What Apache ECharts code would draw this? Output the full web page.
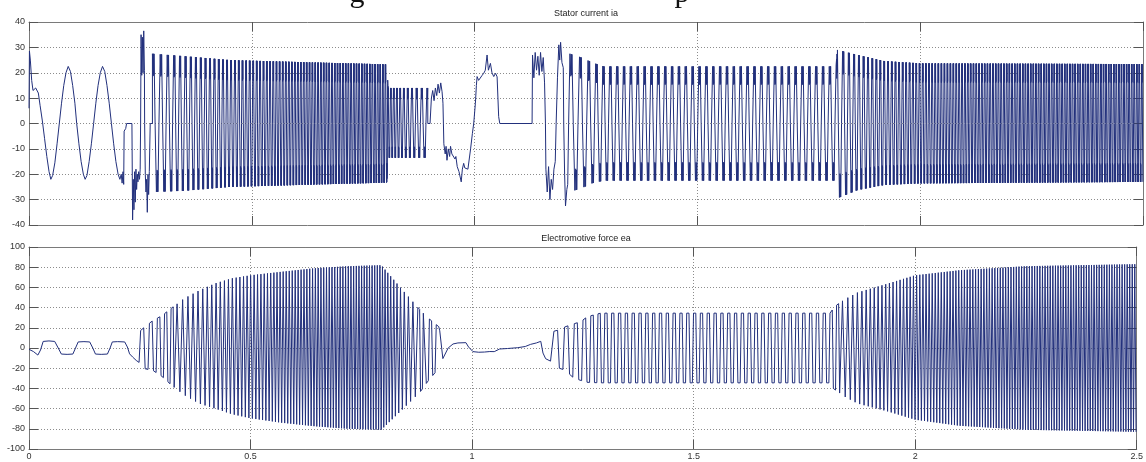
<!DOCTYPE html>
<html><head><meta charset="utf-8">
<script src="https://cdn.jsdelivr.net/npm/echarts@6/dist/echarts.min.js"></script>
<style>html,body{margin:0;padding:0;background:#fff}#c{width:1146px;height:462px}</style>
</head><body><div id="c"></div>
<script>
// ---------------- DATA ----------------
const xTickLabels = ['0', '0.5', '1', '1.5', '2', '2.5'];
const iaTickLabels = ['-40', '-30', '-20', '-10', '0', '10', '20', '30', '40'];
const emfTickLabels = ['-100', '-80', '-60', '-40', '-20', '0', '20', '40', '60', '80', '100'];

// electrical period (s) of the commutation, read from pulse spacing
const periodT = [0.245, 0.26, 0.28, 0.31, 0.34, 0.40, 0.48, 0.56, 0.65, 0.80, 0.83, 0.86, 0.90, 0.93, 1.175, 1.22, 1.255, 1.285, 1.81, 1.85, 1.9, 2.0, 2.1, 2.25, 2.5];
const periodV = [0.022, 0.02, 0.018, 0.015, 0.0125, 0.0102, 0.0082, 0.0070, 0.0063, 0.0058, 0.0075, 0.010, 0.014, 0.018, 0.026, 0.022, 0.018, 0.0154, 0.0154, 0.0112, 0.0090, 0.0072, 0.0064, 0.0059, 0.0057];

// stator current: explicit start-up trace [t, ia]
const iaStartPts = [[0,6],[0.001,28.5],[0.003,25],[0.006,17],[0.009,13],[0.012,12.5],[0.015,14],[0.018,14],[0.021,12],[0.025,7],[0.03,1],[0.035,-6],[0.04,-13],[0.045,-19],[0.049,-22],[0.053,-20.5],[0.058,-15.5],[0.063,-8],[0.068,0],[0.073,8],[0.078,15],[0.083,20],[0.088,22.5],[0.093,20.5],[0.098,15],[0.103,8],[0.107,0],[0.112,-8],[0.117,-15],[0.122,-20],[0.126,-22],[0.130,-20.5],[0.135,-15],[0.140,-8],[0.145,0],[0.150,8],[0.155,15],[0.160,20],[0.165,22.5],[0.170,20.5],[0.175,15],[0.180,8],[0.185,0],[0.190,-8],[0.195,-15],[0.200,-20],[0.204,-22],[0.207,-20],[0.209,-23.5],[0.211,-19],[0.2125,-24],[0.2135,-3],[0.217,-2],[0.219,0],[0.231,0],[0.2325,-38],[0.234,-22],[0.2355,-34],[0.237,-19],[0.2385,-31],[0.24,-18],[0.2415,-26],[0.243,-20],[0.2445,-23],[0.246,-19],[0.248,-22],[0.2495,-18],[0.2505,0],[0.2515,35],[0.253,19],[0.2545,34],[0.256,20],[0.2575,36.5],[0.259,21],[0.2595,0],[0.261,-20],[0.2625,-27],[0.264,-22],[0.2655,-35],[0.267,-20],[0.2685,-28],[0.27,-19],[0.272,0],[0.277,0]];
// stator current: explicit trace around the stop / restart
const iaMidPts = [[0.895,0],[0.9,0],[0.903,10],[0.906,13],[0.909,9],[0.912,14],[0.915,11],[0.918,15.5],[0.921,12],[0.924,16],[0.927,12.5],[0.929,8],[0.930,0],[0.931,-8],[0.934,-12],[0.936,-9],[0.938,-14.5],[0.941,-10],[0.944,-13],[0.946,-9],[0.949,-12],[0.953,-11.7],[0.956,-14],[0.958,-13],[0.961,-17],[0.965,-19],[0.970,-23],[0.9725,-18],[0.9755,-15.7],[0.978,-17.5],[0.982,-17],[0.985,-18],[0.987,-17.7],[0.991,-10],[0.995,-4],[0.998,0],[1.0018,8],[1.004,15],[1.0056,18.5],[1.009,17],[1.013,17.7],[1.017,19],[1.0205,19.8],[1.024,21],[1.028,27],[1.031,21],[1.0355,23.7],[1.039,20],[1.043,18.5],[1.047,19.8],[1.0505,18.4],[1.054,2.7],[1.0565,0],[1.129,0],[1.130,27],[1.133,18],[1.136,28],[1.139,21],[1.142,26.5],[1.145,19],[1.148,28],[1.151,20.5],[1.154,26],[1.157,16],[1.159,0],[1.160,-18],[1.163,-27],[1.166,-17],[1.169,-30],[1.172,-22],[1.175,-26],[1.178,-18],[1.181,-15],[1.183,0],[1.186,18],[1.189,31],[1.191,25],[1.193,32],[1.196,24],[1.199,22],[1.2,0],[1.202,-20],[1.204,-32.5],[1.207,-26],[1.209,-24],[1.211,0],[1.214,0]];
// stator current: pulse envelopes inside the commutated windows
const iaEnvT   = [0.277, 0.35, 0.45, 0.55, 0.65, 0.803, 0.806, 0.895, 1.214, 1.24, 1.265, 1.29, 1.811, 1.814, 1.86, 1.92, 2.0, 2.5];
const iaEnvPos = [27.5, 26.5, 25, 24.5, 24, 23.3, 14, 14, 27.5, 26, 24, 22.5, 22.5, 29, 27, 24.6, 23.7, 23.4];
const iaEnvNeg = [-27, -26.5, -25, -24.5, -24, -23.3, -13.5, -13.5, -27, -25.5, -23.5, -22.5, -22.5, -29.5, -26.2, -24.2, -23.6, -23];
const iaWindows = [[0.277, 0.805, 0], [0.805, 0.895, 0], [1.214, 2.5, 0]];

// EMF: explicit traces
const emfStartPts = [[0,-1.3],[0.01,-3.5],[0.02,-7],[0.026,-2],[0.032,6.5],[0.045,7],[0.058,6.5],[0.066,0],[0.073,-6],[0.086,-6.3],[0.099,-6],[0.105,0],[0.111,6],[0.124,6.3],[0.137,6],[0.144,0],[0.15,-6],[0.163,-6.3],[0.177,-6],[0.183,0],[0.188,6],[0.2,6.3],[0.216,6],[0.222,1],[0.227,-5.8],[0.234,-9],[0.242,-12.3],[0.2455,-13]];
const emfMidPts = [[0.927,17],[0.934,-10.5],[0.946,0],[0.957,4],[0.968,5],[0.986,5.3],[0.992,1],[1.002,-3.6],[1.015,-4.2],[1.028,-4],[1.04,-3.5],[1.05,-3.6],[1.062,-1],[1.08,-0.5],[1.103,0.3],[1.12,1.5],[1.132,3.6],[1.145,5],[1.155,6.6],[1.16,-5],[1.166,-10.6],[1.177,-13]];
// EMF envelopes
const emfEnvT   = [0.245, 0.253, 0.261, 0.279, 0.30, 0.326, 0.35, 0.384, 0.42, 0.458, 0.5, 0.57, 0.645, 0.72, 0.795, 0.84, 0.882, 0.90, 0.925, 1.177, 1.19, 1.21, 1.23, 1.245, 1.26, 1.29, 1.81, 1.815, 1.84, 1.87, 1.94, 2.0, 2.1, 2.25, 2.5];
const emfEnvPos = [13, 18, 20.7, 27, 32, 41, 49, 57, 64, 69, 72, 75.5, 79, 81, 82, 59, 38, 30, 21, 16, 17, 21, 24, 26, 31, 34.5, 34.5, 40, 48, 55, 64, 72, 77, 81, 83];
const emfEnvNeg = [-13, -16, -20.5, -22, -28, -38.5, -46.5, -55, -60, -65.5, -69.6, -74, -77.5, -80, -81, -62, -44, -33, -20, -13, -19, -22, -30, -32, -34, -34.5, -34.5, -40, -48, -55, -63, -71, -77, -81, -83];
const emfWindows = [[0.2455, 0.925, 0.7], [1.177, 2.5, 0.7]];

// ---------------- construction ----------------
// waveform corner shapes within one electrical cycle: [phase, [[side, fraction of envelope], ...]]
const IA_SHAPE = [[0,[[0,0],[1,1]]],[0.07,[[1,1]]],[0.09,[[1,0.68]]],[0.13,[[1,1]]],[0.17,[[1,0.7]]],[0.2,[[1,1]]],[1/3,[[1,1],[0,0]]],
  [0.5,[[0,0],[-1,1]]],[0.57,[[-1,1]]],[0.59,[[-1,0.68]]],[0.63,[[-1,1]]],[0.67,[[-1,0.7]]],[0.7,[[-1,1]]],[5/6,[[-1,1],[0,0]]]];
const EMF_SHAPE = [[0,[[1,1]]],[1/3,[[1,1]]],[0.5,[[-1,1]]],[5/6,[[-1,1]]]];

function lerp(ts, vs, t) {
  if (t <= ts[0]) return vs[0];
  for (let i = 1; i < ts.length; i++) {
    if (t <= ts[i]) { const f = (t - ts[i-1]) / (ts[i] - ts[i-1] || 1); return vs[i-1] + f * (vs[i] - vs[i-1]); }
  }
  return vs[vs.length - 1];
}
function generate(win, shape, envT, envP, envN) {
  const [a, b, ph0] = win, out = [], dt = 0.00002;
  let cyc = Math.floor(ph0), frac = ph0 - cyc;
  let ci = shape.findIndex(c => c[0] >= frac); if (ci < 0) { ci = 0; cyc++; }
  let phase = ph0, t = a;
  while (t < b) {
    const target = cyc + shape[ci][0];
    while (phase < target && t < b) { phase += dt / lerp(periodT, periodV, t); t += dt; }
    if (t >= b) break;
    const P = lerp(envT, envP, t), N = lerp(envT, envN, t), tt = Math.round(t * 1e5) / 1e5;
    for (const [s, f] of shape[ci][1]) out.push([tt, s > 0 ? P * f : (s < 0 ? N * f : 0)]);
    ci++; if (ci >= shape.length) { ci = 0; cyc++; }
  }
  return out;
}
const iaData = [].concat(iaStartPts,
  generate(iaWindows[0], IA_SHAPE, iaEnvT, iaEnvPos, iaEnvNeg),
  generate(iaWindows[1], IA_SHAPE, iaEnvT, iaEnvPos, iaEnvNeg),
  iaMidPts,
  generate(iaWindows[2], IA_SHAPE, iaEnvT, iaEnvPos, iaEnvNeg));
const emfData = [].concat(emfStartPts,
  generate(emfWindows[0], EMF_SHAPE, emfEnvT, emfEnvPos, emfEnvNeg),
  emfMidPts,
  generate(emfWindows[1], EMF_SHAPE, emfEnvT, emfEnvPos, emfEnvNeg));

// ---------------- chart ----------------
const FONT = '"Liberation Sans", Arial, sans-serif';
const LINE = '#22307c';
const FRAME = '#7a7a7a';
const TICK = '#555';
const GRIDC = '#8c8c8c';

function xAx(grid, pos, labels) {
  return { type: 'value', gridIndex: grid, position: pos, min: 0, max: 2.5, interval: 0.5,
    axisLine: { show: true, onZero: false, lineStyle: { color: FRAME, width: 1 } },
    axisTick: { show: true, inside: true, length: 9, lineStyle: { color: TICK } },
    axisLabel: { show: labels, fontSize: 9, color: '#333', margin: 3, fontFamily: FONT,
      formatter: (v, i) => xTickLabels[i] },
    splitLine: { show: pos === 'bottom', lineStyle: { type: [1, 2], color: GRIDC, width: 1 } } };
}
function yAx(grid, pos, min, max, step, labels, lbls) {
  return { type: 'value', gridIndex: grid, position: pos, min, max, interval: step,
    axisLine: { show: true, onZero: false, lineStyle: { color: FRAME, width: 1 } },
    axisTick: { show: true, inside: true, length: 9, lineStyle: { color: TICK } },
    axisLabel: { show: labels, fontSize: 9, color: '#333', margin: 4, fontFamily: FONT,
      formatter: (v, i) => lbls[i] },
    splitLine: { show: pos === 'left', lineStyle: { type: [1, 2], color: GRIDC, width: 1 } } };
}

const chart = echarts.init(document.getElementById('c'), null, { renderer: 'canvas' });
chart.setOption({
  animation: false,
  backgroundColor: '#ffffff',
  grid: [
    { left: 29, right: 3, top: 22, height: 203 },
    { left: 29, right: 3, top: 247, height: 202 }
  ],
  xAxis: [xAx(0, 'bottom', false), xAx(0, 'top', false), xAx(1, 'bottom', true), xAx(1, 'top', false)],
  yAxis: [yAx(0, 'left', -40, 40, 10, true, iaTickLabels), yAx(0, 'right', -40, 40, 10, false, iaTickLabels),
          yAx(1, 'left', -100, 100, 20, true, emfTickLabels), yAx(1, 'right', -100, 100, 20, false, emfTickLabels)],
  graphic: [
    { type: 'text', x: 586, y: 14, silent: true, style: { text: 'Stator current ia', textAlign: 'center', textVerticalAlign: 'middle', font: '9px ' + FONT, fill: '#222' } },
    { type: 'text', x: 586, y: 239, silent: true, style: { text: 'Electromotive force ea', textAlign: 'center', textVerticalAlign: 'middle', font: '9px ' + FONT, fill: '#222' } },
    { type: 'text', x: 357, y: 9, silent: true, style: { text: 'g', textAlign: 'center', textVerticalAlign: 'bottom', font: '30px "Liberation Serif", serif', fill: '#111' } },
    { type: 'text', x: 682, y: 9, silent: true, style: { text: 'p', textAlign: 'center', textVerticalAlign: 'bottom', font: '30px "Liberation Serif", serif', fill: '#111' } }
  ],
  series: [
    { type: 'line', xAxisIndex: 0, yAxisIndex: 0, data: iaData, showSymbol: false, silent: true,
      lineStyle: { width: 1, color: LINE }, emphasis: { disabled: true } },
    { type: 'line', xAxisIndex: 2, yAxisIndex: 2, data: emfData, showSymbol: false, silent: true,
      lineStyle: { width: 1, color: LINE }, emphasis: { disabled: true } }
  ]
});
</script></body></html>
